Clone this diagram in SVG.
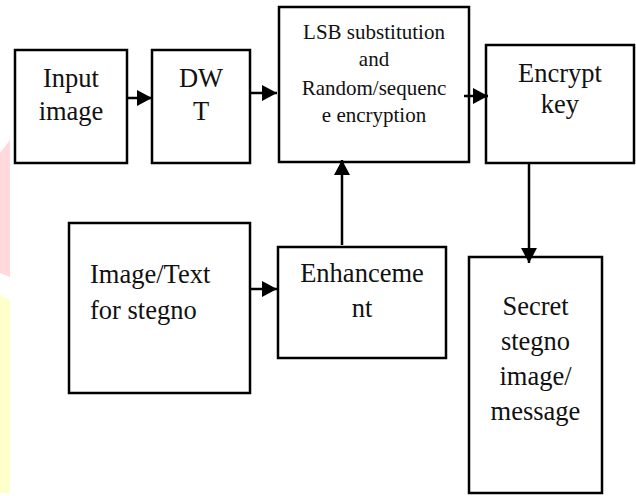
<svg xmlns="http://www.w3.org/2000/svg" width="636" height="496" viewBox="0 0 636 496">
<defs>
<marker id="ah" markerUnits="userSpaceOnUse" markerWidth="15" markerHeight="16" refX="15" refY="8" orient="auto">
<path d="M0,0 L15,8 L0,16 z" fill="#000"/>
</marker>
<style>
.box{fill:#fff;stroke:#000;stroke-width:2.5}
.c{stroke:#000;stroke-width:2.5;fill:none;marker-end:url(#ah)}
</style>
</defs>
<rect width="636" height="496" fill="#fff"/>
<polygon points="0,153 10,140 10,277 0,273" fill="#FFD9DC"/>
<polygon points="0,295 10,300 10,493 0,493" fill="#FFFFCC"/>
<g font-family="Liberation Serif, serif" fill="#111" text-anchor="middle" font-size="26.5">
<g id="input">
<rect class="box" x="15" y="50" width="112" height="113"/>
<text x="71" y="87">Input</text>
<text x="71" y="120">image</text>
</g>
<g id="dwt">
<rect class="box" x="152" y="50" width="98" height="113"/>
<text x="201" y="87">DW</text>
<text x="201" y="120">T</text>
</g>
<g id="lsb" font-size="21">
<rect class="box" x="279" y="7" width="190" height="155"/>
<text x="374" y="39">LSB substitution</text>
<text x="374" y="66">and</text>
<text x="374" y="95">Random/sequenc</text>
<text x="374" y="122">e encryption</text>
</g>
<g id="encrypt">
<rect class="box" x="486" y="45" width="148" height="118"/>
<text x="560" y="82">Encrypt</text>
<text x="560" y="113">key</text>
</g>
<g id="imagetext">
<rect class="box" x="69" y="223" width="181" height="170"/>
<text x="90" y="283" text-anchor="start">Image/Text</text>
<text x="90" y="319" text-anchor="start">for stegno</text>
</g>
<g id="enhancement">
<rect class="box" x="278" y="247" width="168" height="111"/>
<text x="362" y="282">Enhanceme</text>
<text x="362" y="317">nt</text>
</g>
<g id="secret">
<rect class="box" x="469" y="257" width="133" height="236"/>
<text x="535.5" y="315">Secret</text>
<text x="535.5" y="350">stegno</text>
<text x="535.5" y="385">image/</text>
<text x="535.5" y="420">message</text>
</g>
</g>
<g id="connectors">
<line class="c" x1="127" y1="98" x2="152" y2="98"/>
<line class="c" x1="250" y1="93" x2="277" y2="93"/>
<line class="c" x1="464" y1="96" x2="488" y2="96"/>
<line class="c" x1="342" y1="245" x2="342" y2="160"/>
<line class="c" x1="529" y1="163" x2="529" y2="263"/>
<line class="c" x1="251" y1="289" x2="277" y2="289"/>
</g>
</svg>
